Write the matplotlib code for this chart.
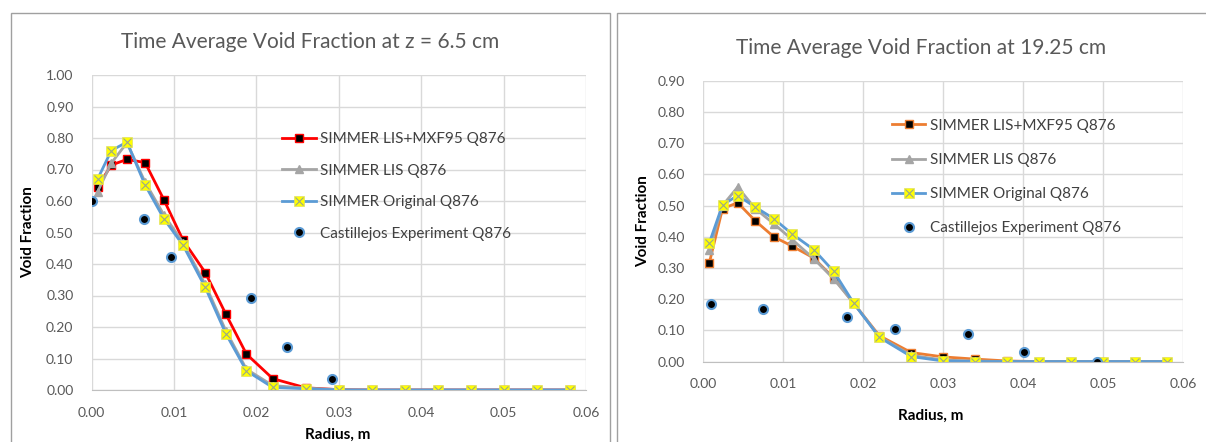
import matplotlib
matplotlib.use("Agg")
import matplotlib.pyplot as plt
from matplotlib.patches import Rectangle
from matplotlib.legend_handler import HandlerTuple

plt.rcParams['font.family'] = ['Lato', 'DejaVu Sans']

# SIMMER radial mesh (m)
radius = [0.00075, 0.0024, 0.0043, 0.0065, 0.0088, 0.0111, 0.0138, 0.0163, 0.0188,
          0.0220, 0.0260, 0.030, 0.034, 0.038, 0.042, 0.046, 0.050, 0.054, 0.058]

# z = 6.5 cm
lis_mxf_a = [0.645, 0.714, 0.732, 0.722, 0.603, 0.476, 0.373, 0.241, 0.114, 0.036,
             0.007, 0.001, 0, 0, 0, 0, 0, 0, 0]
lis_a = [0.630, 0.720, 0.785, 0.660, 0.555, 0.468, 0.335, 0.188, 0.066, 0.014,
         0.006, 0.001, 0, 0, 0, 0, 0, 0, 0]
orig_a = [0.670, 0.760, 0.787, 0.651, 0.543, 0.460, 0.326, 0.179, 0.061, 0.008,
          0.004, 0, 0, 0, 0, 0, 0, 0, 0]
exp_r_a = [0.0, 0.0064, 0.0097, 0.0194, 0.0237, 0.0292]
exp_a = [0.601, 0.542, 0.423, 0.293, 0.138, 0.034]

# z = 19.25 cm
lis_mxf_b = [0.316, 0.490, 0.509, 0.451, 0.400, 0.370, 0.332, 0.268, 0.187, 0.083,
             0.029, 0.015, 0.008, 0.002, 0, 0, 0, 0, 0]
lis_b = [0.357, 0.500, 0.559, 0.490, 0.442, 0.391, 0.330, 0.265, 0.187, 0.080,
         0.020, 0.005, 0.002, 0, 0, 0, 0, 0, 0]
orig_b = [0.380, 0.502, 0.532, 0.495, 0.458, 0.409, 0.359, 0.289, 0.187, 0.078,
          0.016, 0.002, 0, 0, 0, 0, 0, 0, 0]
exp_r_b = [0.00096, 0.0075, 0.018, 0.024, 0.0331, 0.0401, 0.0492]
exp_b = [0.185, 0.170, 0.144, 0.106, 0.089, 0.030, 0.0]

labels = ["SIMMER LIS+MXF95 Q876", "SIMMER LIS Q876", "SIMMER Original Q876",
          "Castillejos Experiment Q876"]

W, H = 1206, 442
fig = plt.figure(figsize=(W / 100, H / 100), dpi=100)

# chart frames (Excel chart areas)
for x0, x1 in [(11, 610), (617, 1210)]:
    fig.patches.append(Rectangle((x0 / W, -0.1), (x1 - x0) / W, 1.1 - 13 / H,
                                 transform=fig.transFigure, fill=False,
                                 edgecolor='#a0a0a0', lw=1))

def px_axes(l, t, r, b):
    return fig.add_axes([l / W, 1 - b / H, (r - l) / W, (b - t) / H])

def draw(ax, ymax, mxf_color, mxf, lis, orig, er, ev, title, title_xy, leg_xy, xlab_xy, ylab_xy):
    ax.grid(True, color='#d9d9d9', lw=1)
    ax.set_axisbelow(True)
    for s in ['left', 'top', 'right']:
        ax.spines[s].set_visible(False)
    ax.spines['bottom'].set_color('#bfbfbf')
    ax.tick_params(length=0, labelsize=10, labelcolor='#595959')
    ax.tick_params(axis='y', pad=13)
    ax.tick_params(axis='x', pad=12)

    l1, = ax.plot(radius, mxf, color=mxf_color, lw=2, marker='s', ms=5.5,
                  mfc='black', mec=mxf_color, mew=1)
    l2, = ax.plot(radius, lis, color='#a5a5a5', lw=2, marker='^', ms=6,
                  mfc='#a5a5a5', mec='#a5a5a5')
    l3, = ax.plot(radius, orig, color='#5b9bd5', lw=2, marker='s', ms=6.5,
                  mfc='#ffff00', mec='#e0e060', mew=0.5)
    l3x, = ax.plot(radius, orig, ls='none', marker='x', ms=6, mec='#9aa88a', mew=0.8)
    l4, = ax.plot(er, ev, ls='none', marker='o', ms=6.5, mfc='black', mec='#5b9bd5', mew=1.5)

    ax.set_xlim(0, 0.06)
    ax.set_ylim(0, ymax)
    ax.set_xticks([0, 0.01, 0.02, 0.03, 0.04, 0.05, 0.06])
    ax.set_xticklabels(['0.00', '0.01', '0.02', '0.03', '0.04', '0.05', '0.06'])
    yt = [i / 10 for i in range(int(round(ymax * 10)) + 1)]
    ax.set_yticks(yt)
    ax.set_yticklabels(['%.2f' % v for v in yt])

    leg = fig.legend([l1, l2, (l3, l3x), l4], labels, loc='center left',
                     bbox_to_anchor=(leg_xy[0] / W, 1 - leg_xy[1] / H),
                     frameon=False, fontsize=11, handlelength=2.2, handletextpad=0.3,
                     labelspacing=leg_xy[2], borderpad=0, borderaxespad=0, numpoints=1,
                     handler_map={tuple: HandlerTuple(ndivide=1, pad=0)})
    for t in leg.get_texts():
        t.set_color('#404040')

    fig.text(title_xy[0] / W, 1 - title_xy[1] / H, title, ha='center', va='center',
             fontsize=15, color='#595959')
    fig.text(xlab_xy[0] / W, 1 - xlab_xy[1] / H, 'Radius, m', ha='center', va='center',
             fontsize=11, fontweight='bold', color='black')
    fig.text(ylab_xy[0] / W, 1 - ylab_xy[1] / H, 'Void Fraction', ha='center', va='center',
             rotation=90, fontsize=11, fontweight='bold', color='black')

ax1 = px_axes(91.5, 75, 586, 390)
draw(ax1, 1.0, '#ff0000', lis_mxf_a, lis_a, orig_a, exp_r_a, exp_a,
     'Time Average Void Fraction at z = 6.5 cm', (310, 42), (282, 186.5, 1.14),
     (338, 435), (28, 232))

ax2 = px_axes(703.3, 80.7, 1183.3, 361.6)
draw(ax2, 0.9, '#ed7d31', lis_mxf_b, lis_b, orig_b, exp_r_b, exp_b,
     'Time Average Void Fraction at 19.25 cm', (921, 48), (891.7, 177, 1.32),
     (931, 416), (643, 221))

fig.savefig('out.png', dpi=100, facecolor='white')
